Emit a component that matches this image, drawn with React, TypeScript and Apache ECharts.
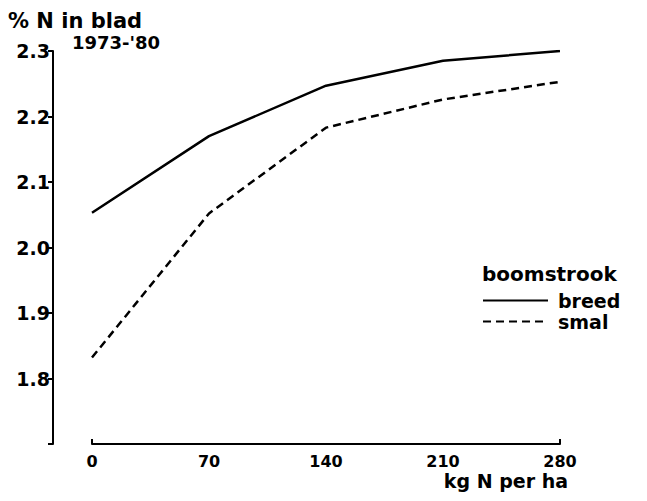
import React, { useEffect, useRef } from "react";
import * as echarts from "echarts";

const xValues = [0, 70, 140, 210, 280];
const breed = [2.053, 2.17, 2.247, 2.285, 2.3];
const smal = [1.832, 2.052, 2.183, 2.226, 2.253];
const seriesNames = ["breed", "smal"];
const yTitle = "% N in blad";
const period = "1973-'80";
const xTitle = "kg N per ha";
const legendTitle = "boomstrook";

const FONT = "'DejaVu Sans', sans-serif";

export default function App() {
  const ref = useRef<HTMLDivElement>(null);
  useEffect(() => {
    if (!ref.current) return;
    const chart = echarts.init(ref.current, undefined, { renderer: "svg" });
    const pairs = (ys: number[]) => xValues.map((x, i) => [x, ys[i]]);
    chart.setOption({
      animation: false,
      backgroundColor: "#ffffff",
      textStyle: { fontFamily: FONT },
      grid: [
        { left: 92, right: 87, top: 51, bottom: 57 },
        { left: 53, width: 10, top: 51, bottom: 57 },
      ],
      xAxis: [
        {
          type: "value",
          gridIndex: 0,
          min: 0,
          max: 280,
          interval: 70,
          axisLine: { show: true, lineStyle: { color: "#000", width: 2 } },
          axisTick: { show: true, inside: true, length: 5, customValues: [0, 280], lineStyle: { color: "#000", width: 2 } },
          axisLabel: { color: "#000", fontSize: 16, lineHeight: 16, fontWeight: "bold", fontFamily: FONT, margin: 9 },
          splitLine: { show: false },
        },
        { type: "value", gridIndex: 1, show: false, min: 0, max: 1 },
      ],
      yAxis: [
        { type: "value", gridIndex: 0, show: false, min: 1.7, max: 2.3 },
        {
          type: "value",
          gridIndex: 1,
          min: 1.7,
          max: 2.3,
          interval: 0.1,
          axisLine: { show: true, lineStyle: { color: "#000", width: 2 } },
          axisTick: { show: true, length: 5, lineStyle: { color: "#000", width: 2 } },
          axisLabel: {
            color: "#000",
            fontSize: 19,
            fontWeight: "bold",
            fontFamily: FONT,
            margin: 3,
            formatter: (v: number) => (Math.abs(v - 1.7) < 1e-6 ? "" : v.toFixed(1)),
          },
          splitLine: { show: false },
        },
      ],
      legend: {
        orient: "vertical",
        left: 482,
        top: 290,
        padding: 0,
        itemWidth: 65,
        itemHeight: 12,
        itemGap: 0,
        data: seriesNames,
        itemStyle: { opacity: 0 },
        textStyle: { color: "#000", fontSize: 19, lineHeight: 21, fontWeight: "bold", fontFamily: FONT, padding: [0, 0, 0, 5] },
      },
      series: [
        {
          name: seriesNames[0],
          type: "line",
          xAxisIndex: 0,
          yAxisIndex: 0,
          data: pairs(breed),
          symbol: "none",
          itemStyle: { color: "#000" },
          lineStyle: { color: "#000", width: 2.5, type: "solid" },
        },
        {
          name: seriesNames[1],
          type: "line",
          xAxisIndex: 0,
          yAxisIndex: 0,
          data: pairs(smal),
          symbol: "none",
          itemStyle: { color: "#000" },
          lineStyle: { color: "#000", width: 2.5, type: [8, 5] },
        },
      ],
      graphic: [
        {
          type: "text",
          left: 8,
          top: 10,
          style: { text: yTitle, fill: "#000", font: `bold 21px ${FONT}` },
        },
        {
          type: "text",
          left: 72,
          top: 33,
          style: { text: period, fill: "#000", font: `bold 18px ${FONT}` },
        },
        {
          type: "text",
          right: 79,
          top: 471,
          style: { text: xTitle, fill: "#000", font: `bold 19px ${FONT}` },
        },
        {
          type: "text",
          left: 482,
          top: 264,
          style: { text: legendTitle, fill: "#000", font: `bold 20px ${FONT}` },
        },
      ],
    });
    return () => chart.dispose();
  }, []);
  return (
    <div
      ref={ref}
      style={{ position: "fixed", left: 0, top: 0, width: 647, height: 501 }}
    />
  );
}
